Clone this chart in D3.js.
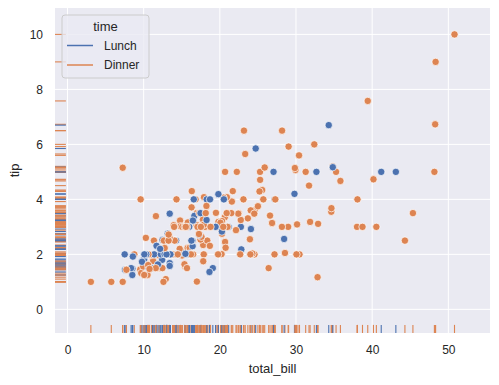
<!DOCTYPE html>
<html><head><meta charset="utf-8">
<script src="https://cdn.jsdelivr.net/npm/d3@7"></script>
<style>body{margin:0;background:#fff}text{font-family:"Liberation Sans",Arial,sans-serif;fill:#262626}</style>
</head><body><svg id="c" width="499" height="385"></svg>
<script>
const totalBill = [16.99,10.34,21.01,23.68,24.59,25.29,8.77,26.88,15.04,14.78,10.27,35.26,15.42,18.43,14.83,21.58,10.33,16.29,16.97,20.65,17.92,20.29,15.77,39.42,19.82,17.81,13.37,12.69,21.7,19.65,9.55,18.35,15.06,20.69,17.78,24.06,16.31,16.93,18.69,31.27,16.04,17.46,13.94,9.68,30.4,18.29,22.23,32.4,28.55,18.04,12.54,10.29,34.81,9.94,25.56,19.49,38.01,26.41,11.24,48.27,20.29,13.81,11.02,18.29,17.59,20.08,16.45,3.07,20.23,15.01,12.02,17.07,26.86,25.28,14.73,10.51,17.92,27.2,22.76,17.29,19.44,16.66,10.07,32.68,15.98,34.83,13.03,18.28,24.71,21.16,28.97,22.49,5.75,16.32,22.75,40.17,27.28,12.03,21.01,12.46,11.35,15.38,44.3,22.42,20.92,15.36,20.49,25.21,18.24,14.31,14.0,7.25,38.07,23.95,25.71,17.31,29.93,10.65,12.43,24.08,11.69,13.42,14.26,15.95,12.48,29.8,8.52,14.52,11.38,22.82,19.08,20.27,11.17,12.26,18.26,8.51,10.33,14.15,16.0,13.16,17.47,34.3,41.19,27.05,16.43,8.35,18.64,11.87,9.78,7.51,14.07,13.13,17.26,24.55,19.77,29.85,48.17,25.0,13.39,16.49,21.5,12.66,16.21,13.81,17.51,24.52,20.76,31.71,10.59,10.63,50.81,15.81,7.25,31.85,16.82,32.9,17.89,14.48,9.6,34.63,34.65,23.33,45.35,23.17,40.55,20.69,20.9,30.46,18.15,23.1,15.69,19.81,28.44,15.48,16.58,7.56,10.34,43.11,13.0,13.51,18.71,12.74,13.0,16.4,20.53,16.47,26.59,38.73,24.27,12.76,30.06,25.89,48.33,13.27,28.17,12.9,28.15,11.59,7.74,30.14,12.16,13.42,8.58,15.98,13.42,16.27,10.09,20.45,13.28,22.12,24.01,15.69,11.61,10.77,15.53,10.07,12.6,32.83,35.83,29.03,27.18,22.67,17.82,18.78];
const tip = [1.01,1.66,3.5,3.31,3.61,4.71,2.0,3.12,1.96,3.23,1.71,5.0,1.57,3.0,3.02,3.92,1.67,3.71,3.5,3.35,4.08,2.75,2.23,7.58,3.18,2.34,2.0,2.0,4.3,3.0,1.45,2.5,3.0,2.45,3.27,3.6,2.0,3.07,2.31,5.0,2.24,2.54,3.06,1.32,5.6,3.0,5.0,6.0,2.05,3.0,2.5,2.6,5.2,1.56,4.34,3.51,3.0,1.5,1.76,6.73,3.21,2.0,1.98,3.76,2.64,3.15,2.47,1.0,2.01,2.09,1.97,3.0,3.14,5.0,2.2,1.25,3.08,4.0,3.0,2.71,3.0,3.4,1.83,5.0,2.03,5.17,2.0,4.0,5.85,3.0,3.0,3.5,1.0,4.3,3.25,4.73,4.0,1.5,3.0,1.5,2.5,3.0,2.5,3.48,4.08,1.64,4.06,4.29,3.76,4.0,3.0,1.0,4.0,2.55,4.0,3.5,5.07,1.5,1.8,2.92,2.31,1.68,2.5,2.0,2.52,4.2,1.48,2.0,2.0,2.18,1.5,2.83,1.5,2.0,3.25,1.25,2.0,2.0,2.0,2.75,3.5,6.7,5.0,5.0,2.3,1.5,1.36,1.63,1.73,2.0,2.5,2.0,2.74,2.0,2.0,5.14,5.0,3.75,2.61,2.0,3.5,2.5,2.0,2.0,3.0,3.48,2.24,4.5,1.61,2.0,10.0,3.16,5.15,3.18,4.0,3.11,2.0,2.0,4.0,3.55,3.68,5.65,3.5,6.5,3.0,5.0,3.5,2.0,3.5,4.0,1.5,4.19,2.56,2.02,4.0,1.44,2.0,5.0,2.0,2.0,4.0,2.01,2.0,2.5,4.0,3.23,3.41,3.0,2.03,2.23,2.0,5.16,9.0,2.5,6.5,1.1,3.0,1.5,1.44,3.09,2.2,3.48,1.92,3.0,1.58,2.5,2.0,3.0,2.72,2.88,2.0,3.0,3.39,1.47,3.0,1.25,1.0,1.17,4.67,5.92,2.0,2.0,1.75,3.0];
// time per row, in groups of ten rows: L = Lunch, D = Dinner
const timeCodes = "DDDDDDDDDD DDDDDDDDDD DDDDDDDDDD DDDDDDDDDD DDDDDDDDDD DDDDDDDDDD DDDDDDDDDD DDDDDDDLLL LLLLLLLLLL DDDDDDDDDD DDDDDDDDDD DDDDDDDLLL LLLLLLLLLL LLLLLLLLLL LLLLLLLLLL DDDDDDDDDD DDDDDDDDDD DDDDDDDDDD DDDDDDDDDD DLLLLLLLLL LLLLLLDDDD DDDDDDDDDD LLLLLLLDDD DDDDDDDDDD DDDD";
const timeCats = ["Lunch", "Dinner"];
const xTicks = [0, 10, 20, 30, 40, 50];
const yTicks = [0, 2, 4, 6, 8, 10];

const time = Array.from(timeCodes.replace(/ /g, "")).map(c => c === "L" ? "Lunch" : "Dinner");
const data = totalBill.map((b, i) => ({bill: b, tip: tip[i], time: time[i]}));

const svg = d3.select("#c");
const L = 55, R = 490, T = 8, B = 333;
const x = d3.scaleLinear().domain([-1.64, 55.47]).range([L, R]);
const y = d3.scaleLinear().domain([-0.86, 10.96]).range([B, T]);
const color = d3.scaleOrdinal().domain(timeCats).range(["#4c72b0", "#dd8452"]);

svg.append("rect").attr("x", L).attr("y", T).attr("width", R - L).attr("height", B - T).attr("fill", "#eaeaf2");
const g = svg.append("g");
g.selectAll(".gx").data(xTicks).join("line")
  .attr("x1", d => x(d)).attr("x2", d => x(d)).attr("y1", T).attr("y2", B)
  .attr("stroke", "#fff").attr("stroke-width", 1);
g.selectAll(".gy").data(yTicks).join("line")
  .attr("y1", d => y(d)).attr("y2", d => y(d)).attr("x1", L).attr("x2", R)
  .attr("stroke", "#fff").attr("stroke-width", 1);

const xa = svg.append("g").attr("transform", `translate(0,${B})`)
  .call(d3.axisBottom(x).tickValues(xTicks).tickSize(0).tickPadding(12));
xa.select(".domain").remove();
xa.selectAll("text").attr("font-size", 12).attr("fill", "#262626").style("font-family", '"Liberation Sans",Arial,sans-serif');
const ya = svg.append("g").attr("transform", `translate(${L},0)`)
  .call(d3.axisLeft(y).tickValues(yTicks).tickSize(0).tickPadding(12));
ya.select(".domain").remove();
ya.selectAll("text").attr("font-size", 12).attr("fill", "#262626").style("font-family", '"Liberation Sans",Arial,sans-serif');

const rugX = (B - T) * 0.025, rugY = (R - L) * 0.025;
svg.append("g").selectAll("line").data(data).join("line")
  .attr("x1", d => x(d.bill)).attr("x2", d => x(d.bill))
  .attr("y1", B).attr("y2", B - rugX)
  .attr("stroke", d => color(d.time)).attr("stroke-width", 1.1);
svg.append("g").selectAll("line").data(data).join("line")
  .attr("y1", d => y(d.tip)).attr("y2", d => y(d.tip))
  .attr("x1", L).attr("x2", L + rugY)
  .attr("stroke", d => color(d.time)).attr("stroke-width", 1.1);

svg.append("g").selectAll("circle").data(data).join("circle")
  .attr("cx", d => x(d.bill)).attr("cy", d => y(d.tip)).attr("r", 3.7)
  .attr("fill", d => color(d.time)).attr("stroke", "#fff").attr("stroke-width", 0.7);

svg.append("text").attr("x", (L + R) / 2).attr("y", 373).attr("text-anchor", "middle")
  .attr("font-size", 13).text("total_bill");
svg.append("text").attr("transform", `translate(19,${(T + B) / 2}) rotate(-90)`).attr("text-anchor", "middle")
  .attr("font-size", 13).text("tip");

const lg = svg.append("g");
lg.append("rect").attr("x", 62).attr("y", 15).attr("width", 87).attr("height", 63).attr("rx", 3)
  .attr("fill", "#eaeaf2").attr("fill-opacity", 0.8).attr("stroke", "#cccccc").attr("stroke-width", 1);
lg.append("text").attr("x", 105.5).attr("y", 31).attr("text-anchor", "middle").attr("font-size", 13).text("time");
timeCats.forEach((c, i) => {
  const yy = 45.5 + i * 19.5;
  lg.append("line").attr("x1", 67).attr("x2", 93).attr("y1", yy).attr("y2", yy)
    .attr("stroke", color(c)).attr("stroke-width", 1.5);
  lg.append("text").attr("x", 104).attr("y", yy + 4.3).attr("font-size", 12).text(c);
});
</script></body></html>
